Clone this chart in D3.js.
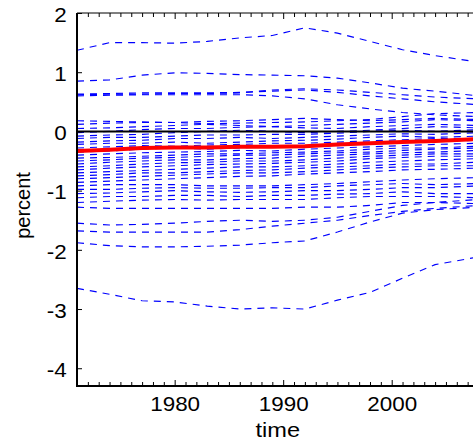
<!DOCTYPE html>
<html>
<head>
<meta charset="utf-8">
<script src="https://cdn.jsdelivr.net/npm/d3@7"></script>
<style>
  html, body { margin: 0; padding: 0; background: #fff; overflow: hidden; }
  svg { display: block; }
  text { font-family: "Liberation Sans", Arial, Helvetica, sans-serif; fill: #000; }
</style>
</head>
<body>
<svg id="chart" width="473" height="441"></svg>
<script>
// ---------------- data ----------------
const years = [1971, 1974, 1977, 1980, 1983, 1986, 1989, 1992, 1995, 1998, 2001, 2004, 2008];
const yTicks = [-4, -3, -2, -1, 0, 1, 2];
const xTicks = [1980, 1990, 2000];
const titleText = "Country effects";
const xLabel = "time";
const yLabel = "percent";

// average (red)
const averageSeries = [-0.33, -0.31, -0.28, -0.27, -0.27, -0.26, -0.26, -0.25, -0.22, -0.20, -0.18, -0.16, -0.13];
// zero reference (black)
const zeroSeries = [0, 0, 0, 0, 0, 0, 0, 0, 0, 0, 0, 0, 0];

// individual series (blue dashed)
const sA = [1.37, 1.50, 1.50, 1.49, 1.52, 1.58, 1.62, 1.75, 1.66, 1.52, 1.38, 1.28, 1.17];
const sB = [0.85, 0.87, 0.95, 0.99, 0.98, 0.96, 0.95, 0.94, 0.90, 0.82, 0.73, 0.68, 0.60];
const sC = [0.63, 0.64, 0.65, 0.65, 0.65, 0.66, 0.68, 0.70, 0.66, 0.60, 0.55, 0.50, 0.45];
const sD = [0.60, 0.61, 0.62, 0.62, 0.62, 0.62, 0.60, 0.55, 0.45, 0.38, 0.32, 0.28, 0.25];
const sE = [0.62, 0.63, 0.63, 0.64, 0.64, 0.65, 0.70, 0.72, 0.70, 0.66, 0.62, 0.58, 0.55];
const s01 = [0.18, 0.17, 0.16, 0.15, 0.17, 0.18, 0.20, 0.22, 0.20, 0.18, 0.20, 0.22, 0.20];
const s02 = [0.12, 0.14, 0.15, 0.15, 0.13, 0.14, 0.15, 0.16, 0.18, 0.20, 0.25, 0.30, 0.32];
const s03 = [0.05, 0.06, 0.08, 0.10, 0.12, 0.10, 0.08, 0.10, 0.12, 0.14, 0.16, 0.20, 0.18];
const s04 = [-0.02, 0.00, 0.03, 0.05, 0.05, 0.07, 0.08, 0.06, 0.05, 0.08, 0.10, 0.12, 0.10];
const s05 = [-0.08, -0.06, -0.05, -0.02, 0.00, 0.02, 0.00, -0.02, 0.00, 0.02, 0.05, 0.08, 0.06];
const s06 = [-0.12, -0.10, -0.10, -0.08, -0.06, -0.06, -0.05, -0.05, -0.03, 0.00, 0.02, 0.00, 0.03];
const s07 = [-0.18, -0.16, -0.15, -0.12, -0.12, -0.10, -0.12, -0.10, -0.08, -0.06, -0.04, -0.05, -0.02];
const s08 = [-0.22, -0.20, -0.20, -0.18, -0.20, -0.18, -0.16, -0.15, -0.13, -0.10, -0.08, -0.10, -0.08];
const s09 = [-0.28, -0.26, -0.24, -0.25, -0.23, -0.22, -0.20, -0.20, -0.18, -0.16, -0.14, -0.12, -0.12];
const s10 = [-0.35, -0.33, -0.30, -0.28, -0.30, -0.28, -0.26, -0.25, -0.24, -0.20, -0.18, -0.17, -0.15];
const s11 = [-0.40, -0.38, -0.36, -0.35, -0.34, -0.32, -0.33, -0.30, -0.28, -0.26, -0.24, -0.22, -0.20];
const s12 = [-0.45, -0.44, -0.42, -0.40, -0.38, -0.38, -0.36, -0.35, -0.33, -0.30, -0.28, -0.28, -0.25];
const s13 = [-0.50, -0.48, -0.45, -0.44, -0.42, -0.40, -0.40, -0.38, -0.36, -0.35, -0.32, -0.30, -0.28];
const s14 = [-0.55, -0.52, -0.50, -0.48, -0.48, -0.46, -0.45, -0.42, -0.40, -0.38, -0.36, -0.35, -0.32];
const s15 = [-0.60, -0.58, -0.55, -0.53, -0.52, -0.50, -0.50, -0.48, -0.45, -0.42, -0.40, -0.38, -0.38];
const s16 = [-0.65, -0.62, -0.60, -0.58, -0.56, -0.55, -0.54, -0.52, -0.50, -0.46, -0.44, -0.42, -0.42];
const s17 = [-0.70, -0.68, -0.66, -0.64, -0.62, -0.60, -0.60, -0.58, -0.55, -0.52, -0.50, -0.48, -0.46];
const s18 = [-0.75, -0.73, -0.70, -0.70, -0.68, -0.66, -0.65, -0.62, -0.60, -0.58, -0.55, -0.55, -0.52];
const s19 = [-0.80, -0.78, -0.76, -0.74, -0.72, -0.70, -0.70, -0.68, -0.65, -0.62, -0.60, -0.58, -0.58];
const s20 = [-0.86, -0.84, -0.82, -0.80, -0.78, -0.76, -0.75, -0.72, -0.70, -0.68, -0.65, -0.64, -0.62];
const s21 = [-0.92, -0.90, -0.90, -0.90, -0.92, -0.92, -0.92, -0.90, -0.88, -0.85, -0.82, -0.80, -0.78];
const s22 = [-0.98, -0.98, -0.96, -0.95, -0.96, -0.96, -0.95, -0.95, -0.92, -0.90, -0.88, -0.90, -0.88];
const s23 = [-1.05, -1.04, -1.02, -1.00, -1.02, -1.03, -1.02, -1.00, -1.00, -0.98, -0.95, -0.95, -0.92];
const s24 = [-1.12, -1.10, -1.10, -1.08, -1.08, -1.10, -1.08, -1.08, -1.06, -1.05, -1.02, -1.05, -1.05];
const s25 = [-1.20, -1.18, -1.16, -1.15, -1.16, -1.15, -1.15, -1.15, -1.12, -1.10, -1.10, -1.10, -1.12];
const s26 = [-1.28, -1.30, -1.30, -1.30, -1.30, -1.30, -1.30, -1.28, -1.28, -1.25, -1.20, -1.20, -1.22];
const sH = [-1.55, -1.58, -1.57, -1.55, -1.52, -1.50, -1.52, -1.50, -1.45, -1.35, -1.25, -1.20, -1.15];
const sI = [-1.68, -1.70, -1.70, -1.70, -1.70, -1.66, -1.60, -1.55, -1.50, -1.42, -1.35, -1.30, -1.25];
const sF = [-1.88, -1.93, -1.95, -1.95, -1.94, -1.92, -1.88, -1.85, -1.70, -1.53, -1.38, -1.32, -1.28];
const sG = [-2.65, -2.75, -2.86, -2.88, -2.95, -3.00, -2.98, -3.00, -2.85, -2.72, -2.48, -2.25, -2.12];

const blueSeries = [sA, sB, sC, sD, sE, s01, s02, s03, s04, s05, s06, s07, s08, s09, s10,
  s11, s12, s13, s14, s15, s16, s17, s18, s19, s20, s21, s22, s23, s24, s25, s26, sH, sI, sF, sG];

// ---------------- layout ----------------
const svg = d3.select("#chart");
const pL = 77, pR = 478.5, pT = 13, pB = 386;

const x = d3.scaleLinear().domain([1971, 2008]).range([pL, pR]);
const y = d3.scaleLinear().domain([-4.3, 2]).range([pB, pT]);

const line = d3.line().x((d, i) => x(years[i])).y(d => y(d));

svg.append("defs").append("clipPath").attr("id", "clip")
  .append("rect").attr("x", pL).attr("y", pT).attr("width", pR - pL).attr("height", pB - pT);

const plot = svg.append("g").attr("clip-path", "url(#clip)");

plot.selectAll("path.blue").data(blueSeries).join("path")
  .attr("class", "blue")
  .attr("d", line)
  .attr("fill", "none")
  .attr("stroke", "#0000ff")
  .attr("stroke-width", 1.15)
  .attr("stroke-dasharray", "7,6");

plot.append("path").datum(zeroSeries)
  .attr("d", line).attr("fill", "none").attr("stroke", "#000").attr("stroke-width", 2);

plot.append("path").datum(averageSeries)
  .attr("d", line).attr("fill", "none").attr("stroke", "#ff0000").attr("stroke-width", 4);

// ---------------- axes ----------------
const allYears = d3.range(1971, 2009);
const minorYears = allYears.filter(v => v % 10 !== 0);

function styleAxis(g) {
  g.select(".domain").remove();
  g.selectAll("line").attr("stroke", "#000").attr("stroke-width", 1);
}

svg.append("g").attr("transform", `translate(0,${pB})`)
  .call(d3.axisBottom(x).tickValues(minorYears).tickSize(-4).tickFormat(""))
  .call(styleAxis);
const xAxisG = svg.append("g").attr("transform", `translate(0,${pB})`)
  .call(d3.axisBottom(x).tickValues(xTicks).tickSize(-6).tickPadding(0).tickFormat(d3.format("d")))
  .call(styleAxis);
xAxisG.selectAll("text")
  .attr("font-size", 19.5)
  .attr("dy", null)
  .attr("y", 25)
  .attr("transform", "scale(1.15,1)")
  .style("font-family", "'Liberation Sans', Arial, sans-serif");

svg.append("g").attr("transform", `translate(0,${pT})`)
  .call(d3.axisTop(x).tickValues(minorYears).tickSize(-4).tickFormat(""))
  .call(styleAxis);
svg.append("g").attr("transform", `translate(0,${pT})`)
  .call(d3.axisTop(x).tickValues(xTicks).tickSize(-6).tickFormat(""))
  .call(styleAxis);

const yAxisG = svg.append("g").attr("transform", `translate(${pL},0)`)
  .call(d3.axisLeft(y).tickValues(yTicks).tickSize(-5).tickPadding(9).tickFormat(d3.format("d")))
  .call(styleAxis);
yAxisG.selectAll("text")
  .attr("font-size", 19.5)
  .attr("dy", "0.42em")
  .attr("transform", "scale(1.15,1)")
  .text(d => d < 0 ? "-" + Math.abs(d) : d)
  .style("font-family", "'Liberation Sans', Arial, sans-serif");

// frame lines
svg.append("line").attr("x1", pL).attr("x2", pL).attr("y1", pT).attr("y2", pB)
  .attr("stroke", "#000").attr("stroke-width", 2);
svg.append("line").attr("x1", pL - 1).attr("x2", pR).attr("y1", pB).attr("y2", pB)
  .attr("stroke", "#000").attr("stroke-width", 2);
svg.append("line").attr("x1", pL).attr("x2", pR).attr("y1", pT).attr("y2", pT)
  .attr("stroke", "#000").attr("stroke-width", 1);
svg.append("line").attr("x1", pR).attr("x2", pR).attr("y1", pT).attr("y2", pB)
  .attr("stroke", "#000").attr("stroke-width", 1);

// labels
svg.append("text")
  .attr("x", 0).attr("y", 0)
  .attr("transform", `translate(${(pL + pR) / 2},437) scale(1.15,1)`)
  .attr("text-anchor", "middle")
  .attr("font-size", 20.5)
  .text(xLabel);

svg.append("text")
  .attr("transform", `translate(30,${(pT + pB) / 2 + 6}) rotate(-90)`)
  .attr("text-anchor", "middle")
  .attr("font-size", 20)
  .text(yLabel);

svg.append("text")
  .attr("x", 172).attr("y", -4)
  .attr("font-size", 20)
  .attr("font-weight", "bold")
  .text(titleText);
</script>
</body>
</html>
